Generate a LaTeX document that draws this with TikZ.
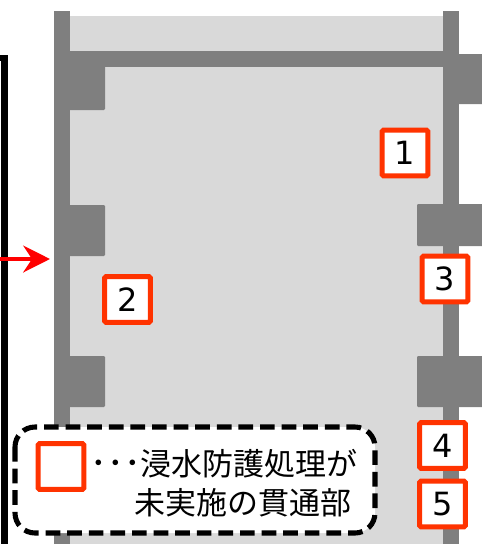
\documentclass[tikz,border=0pt]{standalone}
\usepackage{fontspec}
\setmainfont{DejaVu Sans}
\newfontfamily\jpfont{Noto Sans CJK JP}
\usetikzlibrary{arrows.meta}
\definecolor{wallgray}{HTML}{7F7F7F}
\definecolor{roomgray}{HTML}{D9D9D9}
\definecolor{markred}{HTML}{FF3300}

\begin{document}
\begin{tikzpicture}[
    x=0.75pt, y=-0.75pt,
    wall/.style={fill=wallgray, draw=none},
    block/.style={fill=wallgray, draw=none, rounded corners=0.8pt},
    numbox/.style={rectangle, draw=markred, fill=white, line width=3.8pt, rounded corners=1pt,
                   minimum size=34.2pt, inner sep=0pt, font=\fontsize{24}{24}\selectfont},
    arrow/.style={-{Stealth[length=20pt, width=20pt, inset=6.5pt]}, draw=red, line width=3.4pt},
    legendtext/.style={font=\jpfont\fontsize{23.25}{23.25}\selectfont, inner sep=0pt, anchor=east}
]
    \useasboundingbox (0, 0) rectangle (482, 544);

    % Room
    \fill[roomgray] (70, 16) rectangle (443, 544);

    % Walls and beam
    \fill[wall] (54, 11) rectangle (70, 544);
    \fill[wall] (443, 11) rectangle (459, 544);
    \fill[wall] (70, 51) rectangle (443, 67);

    % Left blocks
    \fill[block] (60, 60) rectangle (105, 110);
    \fill[block] (60, 205) rectangle (105, 256);
    \fill[block] (60, 356) rectangle (105, 407);

    % Right blocks
    \fill[block] (450, 54) rectangle (490, 104);
    \fill[block] (417, 204) rectangle (490, 246);
    \fill[block] (417, 356) rectangle (490, 407);

    % Outer line
    \draw[line width=5pt, line join=miter] (-5, 58) -- (4.8, 58) -- (4.8, 550);

    % Red arrow
    \coordinate (arrowstart) at (-5, 259);
    \coordinate (arrowend) at (50, 259);
    \draw[arrow] (arrowstart) -- (arrowend);

    % Numbered marks
    \node[numbox] (mark1) at (405, 153) {1};
    \node[numbox] (mark2) at (127.5, 299.5) {2};
    \node[numbox] (mark3) at (445, 279) {3};
    \node[numbox] (mark4) at (442.5, 445.5) {4};
    \node[numbox] (mark5) at (442.5, 504) {5};

    % Legend
    \draw[fill=white, line width=3.8pt, rounded corners=15pt, dash pattern=on 11pt off 5.2pt]
        (15, 427) rectangle (375, 533);
    \node[numbox] (legendmark) at (61, 466.5) {};
    \node[legendtext] (legend1) at (358, 464) {{\fontsize{25}{25}\selectfont ･･･}浸水防護処理が};
    \node[legendtext] (legend2) at (352, 503) {未実施の貫通部};
\end{tikzpicture}
\end{document}
